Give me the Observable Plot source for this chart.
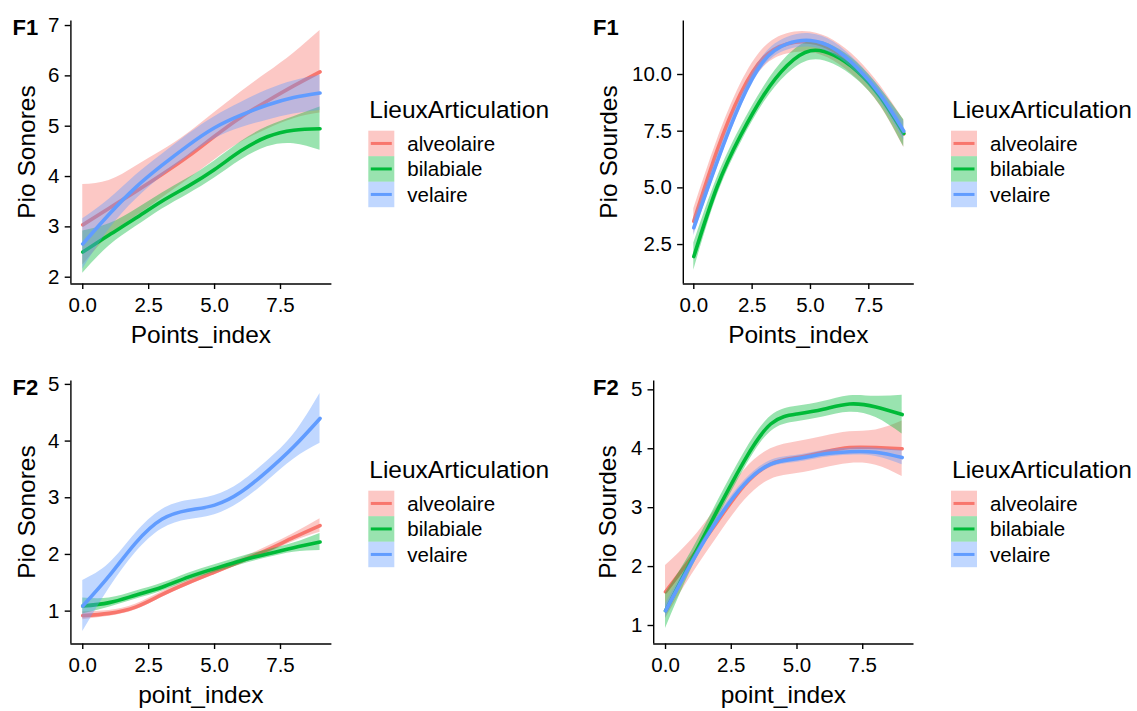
<!DOCTYPE html>
<html><head><meta charset="utf-8">
<script src="https://cdn.jsdelivr.net/npm/d3@7"></script>
<script src="https://cdn.jsdelivr.net/npm/@observablehq/plot@0.6"></script>
<style>
body{margin:0;background:#fff;}
#root{position:relative;width:1137px;height:711px;overflow:hidden;font-family:"Liberation Sans",Arial,Helvetica,sans-serif;background:#fff;}
.panel{position:absolute;}
#overlay{position:absolute;left:0;top:0;pointer-events:none;}
</style></head><body><div id="root"></div>
<script>
// ---------- data ----------
const pointIndex = [0,1,2,3,4,5,6,7,8,9];
const categories = ["alveolaire","bilabiale","velaire"];
const colors = ["#F8766D","#00BA38","#619CFF"];
const xTicks = [0,2.5,5,7.5];
const xDomain = [-0.45,9.45];

// F1 - Pio Sonores (fit, ribbon half-width)
const f1SonAlvFit = [3.04,3.37,3.70,4.04,4.40,4.80,5.18,5.50,5.80,6.08];
const f1SonAlvSe  = [0.80,0.55,0.50,0.47,0.46,0.47,0.50,0.56,0.65,0.82];
const f1SonBilFit = [2.50,2.84,3.17,3.51,3.81,4.14,4.51,4.79,4.92,4.95];
const f1SonBilSe  = [0.42,0.22,0.17,0.16,0.16,0.17,0.18,0.20,0.27,0.43];
const f1SonVelFit = [2.66,3.25,3.78,4.22,4.62,4.97,5.22,5.42,5.57,5.66];
const f1SonVelSe  = [0.50,0.30,0.24,0.22,0.22,0.22,0.25,0.30,0.33,0.35];
const f1SonYTicks = [2,3,4,5,6,7];
const f1SonYDomain = [1.865,7.09];

// F1 - Pio Sourdes
const f1SouAlvFit = [3.53,6.65,9.15,10.75,11.35,11.42,11.05,10.25,9.05,7.38];
const f1SouAlvSe  = [0.55,0.45,0.42,0.42,0.45,0.45,0.45,0.45,0.45,0.60];
const f1SouBilFit = [1.97,5.05,7.30,9.10,10.40,11.05,10.85,10.15,9.00,7.40];
const f1SouBilSe  = [0.60,0.40,0.35,0.35,0.40,0.42,0.40,0.38,0.38,0.60];
const f1SouVelFit = [3.24,6.15,8.75,10.60,11.35,11.50,11.15,10.30,9.10,7.50];
const f1SouVelSe  = [0.35,0.28,0.25,0.25,0.28,0.30,0.28,0.25,0.28,0.40];
const f1SouYTicks = [2.5,5,7.5,10];
const f1SouYDomain = [0.76,12.36];

// F2 - Pio Sonores
const f2SonAlvFit = [0.92,0.96,1.07,1.29,1.50,1.69,1.88,2.08,2.30,2.51];
const f2SonAlvSe  = [0.07,0.05,0.05,0.05,0.05,0.05,0.05,0.06,0.07,0.12];
const f2SonBilFit = [1.09,1.15,1.28,1.42,1.60,1.75,1.89,2.01,2.12,2.22];
const f2SonBilSe  = [0.14,0.08,0.07,0.07,0.07,0.07,0.07,0.07,0.08,0.15];
const f2SonVelFit = [1.09,1.62,2.20,2.62,2.78,2.87,3.10,3.47,3.90,4.40];
const f2SonVelSe  = [0.45,0.22,0.17,0.17,0.17,0.17,0.17,0.18,0.22,0.44];
const f2SonYTicks = [1,2,3,4,5];
const f2SonYDomain = [0.42,5.06];

// F2 - Pio Sourdes
const f2SouAlvFit = [1.57,2.16,2.78,3.38,3.74,3.85,3.94,4.02,4.02,4.00];
const f2SouAlvSe  = [0.45,0.30,0.26,0.26,0.26,0.27,0.27,0.27,0.30,0.47];
const f2SouBilFit = [1.25,2.12,2.98,3.80,4.42,4.59,4.67,4.76,4.71,4.58];
const f2SouBilSe  = [0.30,0.15,0.14,0.14,0.13,0.13,0.13,0.14,0.18,0.33];
const f2SouVelFit = [1.25,2.07,2.81,3.40,3.74,3.83,3.91,3.95,3.94,3.85];
const f2SouVelSe  = [0.12,0.07,0.06,0.06,0.06,0.06,0.06,0.06,0.07,0.12];
const f2SouYTicks = [1,2,3,4,5];
const f2SouYDomain = [0.686,5.15];

const FONT = '"Liberation Sans",Arial,Helvetica,sans-serif';
const root = document.getElementById("root");

function makePanel(cfg){
  const marks = [];
  categories.forEach((cat,i)=>{
    const fit = cfg.fits[i], se = cfg.ses[i];
    const rows = pointIndex.map((x,j)=>({x, fit: fit[j], lo: fit[j]-se[j], hi: fit[j]+se[j]}));
    marks.push(Plot.areaY(rows,{x:"x",y1:"lo",y2:"hi",fill:colors[i],fillOpacity:0.4,curve:"natural"}));
    marks.push(Plot.lineY(rows,{x:"x",y:"fit",stroke:colors[i],strokeWidth:3.6,curve:"natural"}));
  });
  marks.push(Plot.axisX({ticks:xTicks,tickFormat:d3.format(".1f"),tickSize:5.5,tickPadding:7.5,strokeWidth:1.4,label:null}));
  marks.push(Plot.axisY({ticks:cfg.yTicks,tickFormat:cfg.yFormat,tickSize:5.7,tickPadding:5.7,strokeWidth:1.4,label:null}));
  marks.push(Plot.ruleX([xDomain[0]],{stroke:"black",strokeWidth:1.4}));
  marks.push(Plot.ruleY([cfg.yDomain[0]],{stroke:"black",strokeWidth:1.4}));
  const svg = Plot.plot({
    width:cfg.width,height:cfg.height,
    marginLeft:cfg.mL,marginRight:cfg.mR,marginTop:20.5,marginBottom:cfg.height-cfg.axisY,
    x:{domain:xDomain,label:null},
    y:{domain:cfg.yDomain,label:null},
    style:{fontSize:"20.5px",fontFamily:FONT,color:"black",background:"transparent",overflow:"visible"},
    marks
  });
  const div = document.createElement("div");
  div.className="panel";
  div.style.left=cfg.left+"px"; div.style.top=cfg.top+"px";
  div.appendChild(svg);
  root.appendChild(div);
}

makePanel({left:0,top:0,width:345,height:360,mL:70.4,mR:13.6,axisY:283.5,
  fits:[f1SonAlvFit,f1SonBilFit,f1SonVelFit],ses:[f1SonAlvSe,f1SonBilSe,f1SonVelSe],
  yTicks:f1SonYTicks,yFormat:d3.format("d"),yDomain:f1SonYDomain});
makePanel({left:590,top:0,width:340,height:360,mL:92.8,mR:16.2,axisY:283.5,
  fits:[f1SouAlvFit,f1SouBilFit,f1SouVelFit],ses:[f1SouAlvSe,f1SouBilSe,f1SouVelSe],
  yTicks:f1SouYTicks,yFormat:d3.format(".1f"),yDomain:f1SouYDomain});
makePanel({left:0,top:360,width:345,height:351,mL:70.4,mR:13.6,axisY:283.5,
  fits:[f2SonAlvFit,f2SonBilFit,f2SonVelFit],ses:[f2SonAlvSe,f2SonBilSe,f2SonVelSe],
  yTicks:f2SonYTicks,yFormat:d3.format("d"),yDomain:f2SonYDomain});
makePanel({left:570,top:360,width:360,height:351,mL:83.2,mR:16.5,axisY:283.5,
  fits:[f2SouAlvFit,f2SouBilFit,f2SouVelFit],ses:[f2SouAlvSe,f2SouBilSe,f2SouVelSe],
  yTicks:f2SouYTicks,yFormat:d3.format("d"),yDomain:f2SouYDomain});

// ---------- overlay text: titles, panel tags, legends ----------
const ov = d3.select(root).append("svg").attr("id","overlay")
  .attr("width",1137).attr("height",711)
  .style("font-family",FONT).style("fill","black");

const xTitles = [
  {t:"Points_index",x:200.9,y:343.3},{t:"Points_index",x:798.3,y:343.3},
  {t:"point_index",x:200.9,y:703.3},{t:"point_index",x:783.4,y:703.3}];
xTitles.forEach(d=>ov.append("text").attr("x",d.x).attr("y",d.y)
  .attr("text-anchor","middle").attr("font-size","24.5px").text(d.t));

const yTitles = [
  {t:"Pio Sonores",x:35,y:152},{t:"Pio Sourdes",x:616.5,y:152},
  {t:"Pio Sonores",x:35,y:512},{t:"Pio Sourdes",x:615.5,y:512}];
yTitles.forEach(d=>ov.append("text").attr("transform",`translate(${d.x},${d.y}) rotate(-90)`)
  .attr("text-anchor","middle").attr("font-size","24.5px").text(d.t));

const tags = [{t:"F1",x:12.5,y:35},{t:"F1",x:593,y:35},{t:"F2",x:12.5,y:395},{t:"F2",x:593,y:394.5}];
tags.forEach(d=>ov.append("text").attr("x",d.x).attr("y",d.y)
  .attr("font-size","22px").attr("font-weight","bold").text(d.t));

const legends = [{x:368.3,y:0},{x:951,y:0},{x:368.3,y:360},{x:951,y:360}];
legends.forEach(L=>{
  const g = ov.append("g");
  g.append("text").attr("x",L.x+1).attr("y",L.y+117.7).attr("font-size","24.5px").text("LieuxArticulation");
  categories.forEach((cat,i)=>{
    const top = L.y+130.7+i*25.5, cy = top+12.75;
    g.append("rect").attr("x",L.x).attr("y",top).attr("width",26).attr("height",25.5)
      .attr("fill",colors[i]).attr("fill-opacity",0.4);
    g.append("line").attr("x1",L.x+2.5).attr("x2",L.x+23.5).attr("y1",cy).attr("y2",cy)
      .attr("stroke",colors[i]).attr("stroke-width",3);
    g.append("text").attr("x",L.x+39).attr("y",cy+7.5).attr("font-size","20.5px").text(cat);
  });
});
</script>
</body></html>
